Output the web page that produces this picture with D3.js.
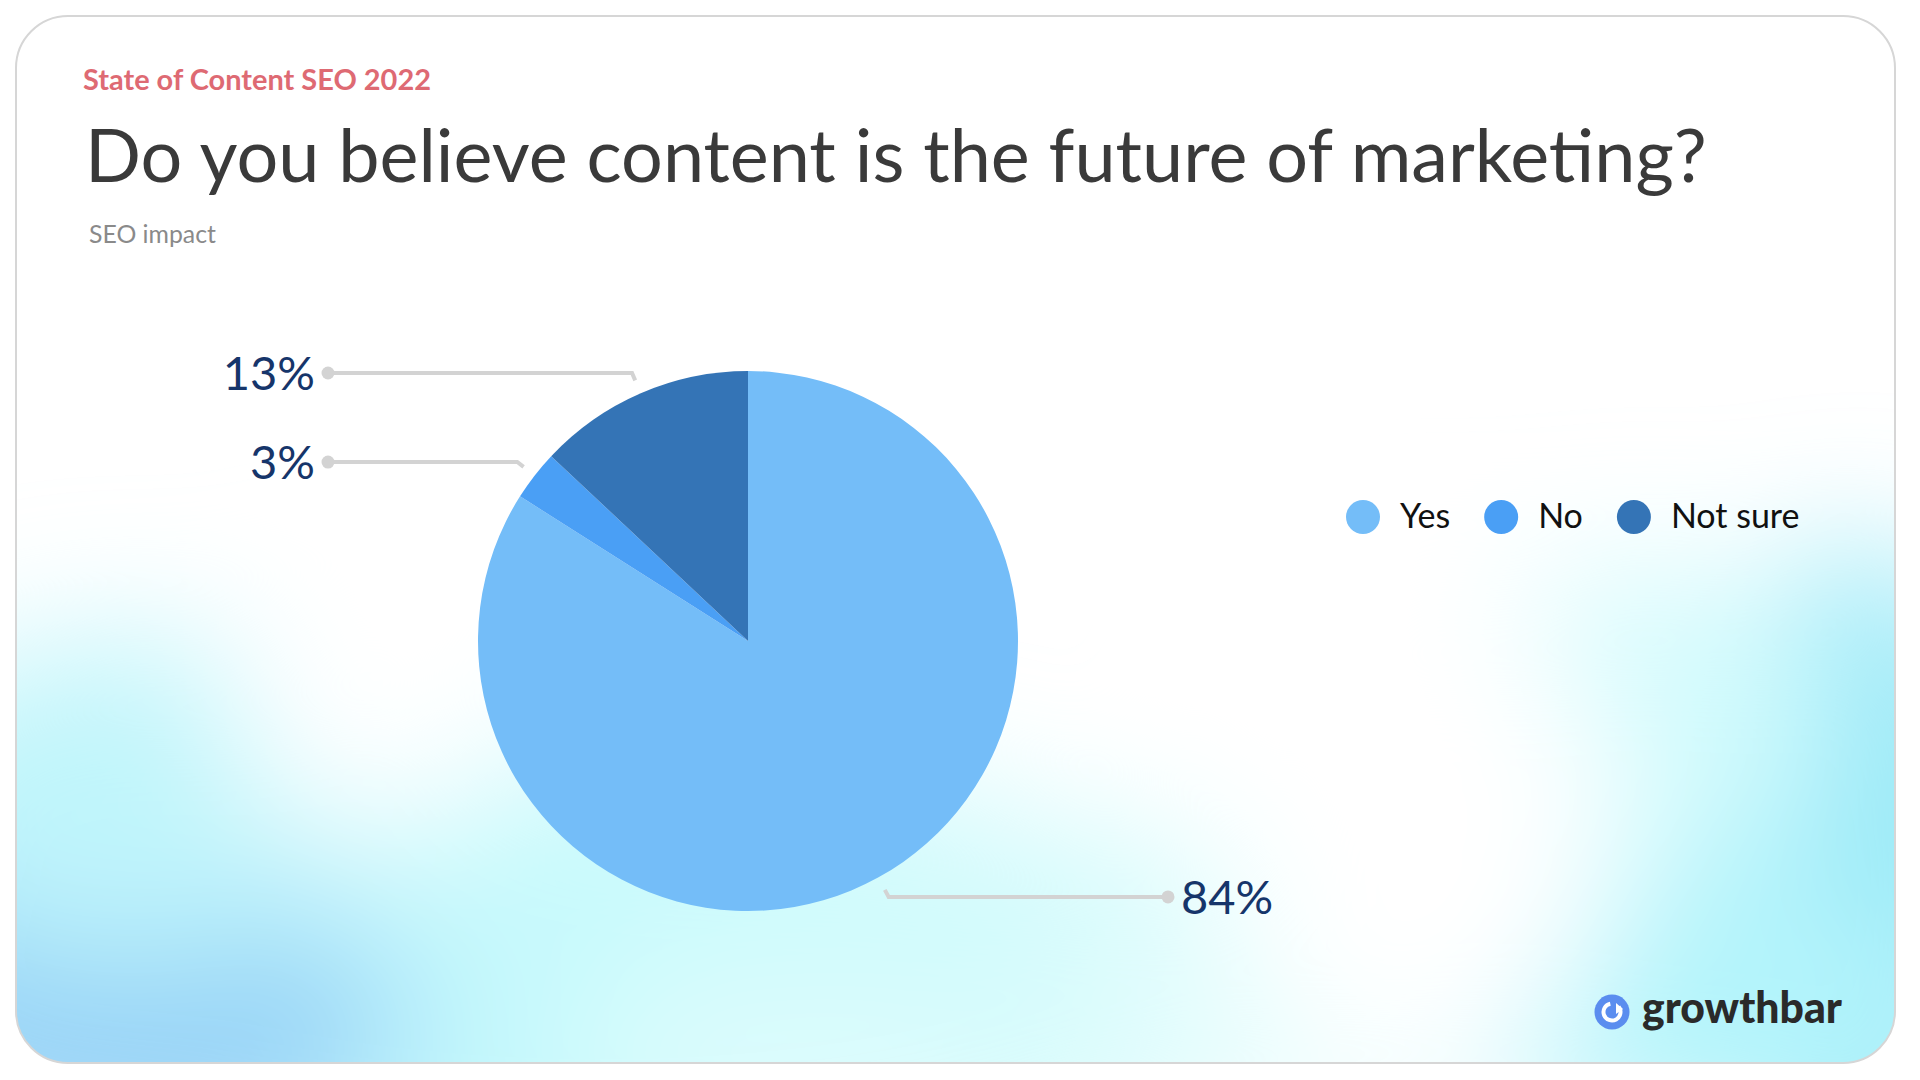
<!DOCTYPE html>
<html>
<head>
<meta charset="utf-8">
<script src="https://cdn.jsdelivr.net/npm/d3@7"></script>
<style>
  html, body { margin: 0; padding: 0; background: #ffffff; }
  svg { display: block; }
</style>
</head>
<body>
<svg id="chart" width="1920" height="1080"></svg>
<script>
// ---- data ----
const categories = ["Yes", "No", "Not sure"];
const values = [84, 3, 13];
const colors = ["#74BDF8", "#4A9FF5", "#3474B6"];
const labelTexts = ["84%", "3%", "13%"];
const kicker = "State of Content SEO 2022";
const title = "Do you believe content is the future of marketing?";
const subtitle = "SEO impact";
const brand = "growthbar";

const data = categories.map((c, i) => ({ category: c, value: values[i], color: colors[i], label: labelTexts[i] }));

const svg = d3.select("#chart");
const FONT = "Lato, 'Open Sans', sans-serif";

// ---- card + background ----
const defs = svg.append("defs");
const card = { x: 16, y: 16, w: 1879, h: 1047, r: 52 };
defs.append("clipPath").attr("id", "cardClip")
  .append("rect").attr("x", card.x).attr("y", card.y).attr("width", card.w).attr("height", card.h).attr("rx", card.r);
const blur = defs.append("filter").attr("id", "blur").attr("x", "-50%").attr("y", "-50%").attr("width", "200%").attr("height", "200%");
blur.append("feGaussianBlur").attr("stdDeviation", 70);

const bg = svg.append("g").attr("clip-path", "url(#cardClip)");
bg.append("rect").attr("x", card.x).attr("y", card.y).attr("width", card.w).attr("height", card.h).attr("fill", "#ffffff");
const blobs = bg.append("g").attr("filter", "url(#blur)");
const blobList = [
  [600, 1000, 700, 230, "#c3f8fc"],
  [120, 980, 300, 200, "#98d3f7"],
  [130, 800, 260, 160, "#c0f5fb"],
  [520, 880, 200, 140, "#c6f9fc"],
  [1000, 990, 420, 160, "#d2fbfc"],
  [1350, 1010, 300, 110, "#e4fdfd"],
  [1860, 880, 170, 330, "#96e8f7"],
  [1690, 1000, 260, 140, "#b4f4fb"],
  [1640, 720, 200, 150, "#d2fbfd"],
  [380, 720, 150, 110, "#ffffff"],
  [1420, 830, 200, 250, "#ffffff"],
  [800, 1090, 250, 40, "#eafefe"]
];
blobs.selectAll("ellipse").data(blobList).join("ellipse")
  .attr("cx", d => d[0]).attr("cy", d => d[1]).attr("rx", d => d[2]).attr("ry", d => d[3]).attr("fill", d => d[4]);
svg.append("rect").attr("x", card.x).attr("y", card.y).attr("width", card.w).attr("height", card.h).attr("rx", card.r)
  .attr("fill", "none").attr("stroke", "#d6d6d6").attr("stroke-width", 2);

// ---- texts ----
function fitWidth(sel, target) {
  const fs = parseFloat(sel.attr("font-size"));
  const w = sel.node().getComputedTextLength();
  sel.attr("font-size", fs * target / w);
}
const k = svg.append("text").attr("x", 83).attr("y", 90).attr("font-family", FONT).attr("font-weight", 700)
  .attr("font-size", 26).attr("fill", "#DE6A73").text(kicker);
fitWidth(k, 348);
const t = svg.append("text").attr("x", 85).attr("y", 182).attr("font-family", FONT).attr("font-weight", 400)
  .attr("font-size", 70).attr("fill", "#3a3a3a").text(title);
fitWidth(t, 1622);
const s = svg.append("text").attr("x", 89).attr("y", 243).attr("font-family", FONT).attr("font-weight", 400)
  .attr("font-size", 22).attr("fill", "#8a8a8a").text(subtitle);
fitWidth(s, 127);

// ---- pie ----
const cx = 748, cy = 641, r = 270;
const pie = d3.pie().sort(null).value(d => d.value);
const arcs = pie(data);
const arc = d3.arc().innerRadius(0).outerRadius(r);
const g = svg.append("g").attr("transform", `translate(${cx},${cy})`);
g.selectAll("path.slice").data(arcs).join("path").attr("class", "slice")
  .attr("d", arc).attr("fill", d => d.data.color);

// leader lines + labels
const arcIn = d3.arc().innerRadius(r + 14).outerRadius(r + 14);
const arcOut = d3.arc().innerRadius(r + 22).outerRadius(r + 22);
const dotOffset = 420;
arcs.forEach(d => {
  const p1 = arcIn.centroid(d);
  const p2 = arcOut.centroid(d);
  const mid = (d.startAngle + d.endAngle) / 2;
  const right = Math.sin(mid) > 0;
  const dx = right ? dotOffset : -dotOffset;
  g.append("polyline")
    .attr("points", [p1, p2, [dx, p2[1]]].map(p => p.join(",")).join(" "))
    .attr("fill", "none").attr("stroke", "#d3d3d3").attr("stroke-width", 4);
  g.append("circle").attr("cx", dx).attr("cy", p2[1]).attr("r", 6.5).attr("fill", "#d3d3d3");
  g.append("text")
    .attr("x", right ? dx + 13 : dx - 13)
    .attr("y", p2[1] + 17)
    .attr("text-anchor", right ? "start" : "end")
    .attr("font-family", FONT).attr("font-size", 47).attr("fill", "#16356a")
    .text(d.data.label);
});

// ---- legend ----
const legend = svg.append("g").attr("transform", "translate(1363,517)");
let lx = 0;
data.forEach(d => {
  const it = legend.append("g").attr("transform", `translate(${lx},0)`);
  it.append("circle").attr("r", 17).attr("fill", d.color);
  const tx = it.append("text").attr("x", 37).attr("y", 11).attr("font-family", FONT).attr("font-size", 34)
    .attr("fill", "#111").text(d.category);
  lx += 37 + tx.node().getComputedTextLength() + 51;
});

// ---- brand ----
const logo = svg.append("g").attr("transform", "translate(1612,1012)");
logo.append("circle").attr("r", 17.5).attr("fill", "#5B8DEF");
logo.append("path").attr("d", d3.arc().innerRadius(6.5).outerRadius(10.5).startAngle(0.9).endAngle(2 * Math.PI - 0.2)())
  .attr("fill", "#ffffff");
logo.append("path").attr("d", "M4,-9 L11,-3 L4,2 Z").attr("fill", "#ffffff");
const bt = svg.append("text").attr("x", 1642).attr("y", 1023).attr("font-family", FONT).attr("font-weight", 900)
  .attr("font-size", 40).attr("fill", "#2a2a2a").text(brand);
fitWidth(bt, 200);
</script>
</body>
</html>
